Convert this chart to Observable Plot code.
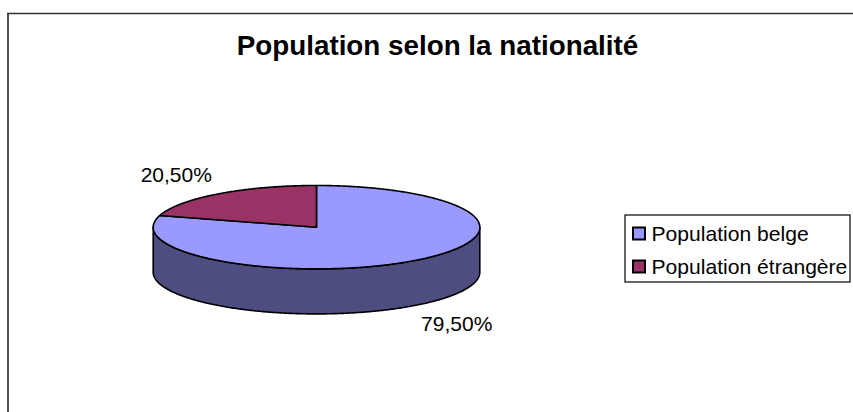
<!DOCTYPE html>
<html>
<head>
<meta charset="utf-8">
<script src="https://cdn.jsdelivr.net/npm/d3@7"></script>
<script src="https://cdn.jsdelivr.net/npm/@observablehq/plot@0.6"></script>
<style>
  html, body { margin: 0; padding: 0; background: #fff; overflow: hidden; }
  #chart { width: 853px; height: 412px; }
</style>
</head>
<body>
<div id="chart"></div>
<script>
// ---- data ----
const title = "Population selon la nationalité";
const categories = ["Population belge", "Population étrangère"];
const shares = [79.5, 20.5];
const shareLabels = ["79,50%", "20,50%"];

// ---- styles / layout ----
const topColors = ["#9999ff", "#993366"];
const sideColors = ["#4d4d80", "#4d1a33"];
const W = 853, H = 412;
const FONT = "'Liberation Sans', Arial, sans-serif";
const pie = {cx: 316, cy: 226.7, rx: 163.3, ry: 41.7, depth: 45};
const legendBox = {x: 625, y: 215, w: 225, h: 67};
const legendRow0 = 233.5, legendRowStep = 33, swatch = 12;

const pt = (a, dz = 0) => ({x: pie.cx + pie.rx * Math.sin(a), y: pie.cy - pie.ry * Math.cos(a) + dz});
const arc = (a0, a1, dz) => {
  const n = Math.max(2, Math.ceil(Math.abs(a1 - a0) / 0.01));
  return d3.range(n + 1).map(k => pt(a0 + (a1 - a0) * k / n, dz));
};

const total = d3.sum(shares);
let acc = 0;
const slices = categories.map((name, i) => {
  const a0 = acc / total * 2 * Math.PI;
  acc += shares[i];
  const a1 = acc / total * 2 * Math.PI;
  const c = {x: pie.cx, y: pie.cy};
  const top = [c, ...arc(a0, a1, 0), c];
  const lo = Math.max(a0, Math.PI / 2), hi = Math.min(a1, 3 * Math.PI / 2);
  let side = null;
  if (hi > lo) {
    const t = arc(lo, hi, 0), b = arc(hi, lo, pie.depth);
    side = [...t, ...b, t[0]];
  }
  const mid = (a0 + a1) / 2;
  const label = {
    x: pie.cx + 1.43 * pie.rx * Math.sin(mid),
    y: pie.cy - 1.55 * pie.ry * Math.cos(mid) + (Math.cos(mid) < 0 ? pie.depth : 0),
    text: shareLabels[i]
  };
  return {name, i, top, side, label};
});

const marks = [];
// outer chart-area border (left & top visible)
marks.push(Plot.ruleX([7.5], {y1: 13, y2: H, stroke: "#333", strokeWidth: 1.7}));
marks.push(Plot.ruleY([13], {x1: 7, x2: W, stroke: "#333", strokeWidth: 1.7}));
// side walls
for (const s of slices) if (s.side)
  marks.push(Plot.line(s.side, {x: "x", y: "y", fill: sideColors[s.i], stroke: "black", strokeWidth: 1.6, curve: "linear"}));
// top faces
for (const s of slices)
  marks.push(Plot.line(s.top, {x: "x", y: "y", fill: topColors[s.i], stroke: "black", strokeWidth: 1.6, curve: "linear"}));
// percentage labels
marks.push(Plot.text(slices.map(s => s.label), {x: "x", y: "y", text: "text", fontSize: 21, fill: "black", lineAnchor: "middle", textAnchor: "middle"}));
// title
marks.push(Plot.text([title], {x: () => 437, y: () => 54, text: d => d, fontSize: 27.8, fontWeight: "bold", fill: "black", lineAnchor: "bottom", textAnchor: "middle"}));
// legend
marks.push(Plot.rect([legendBox], {x1: d => d.x, x2: d => d.x + d.w, y1: d => d.y, y2: d => d.y + d.h, fill: "white", stroke: "black", strokeWidth: 1.2}));
const legendItems = categories.map((name, i) => ({name, i, y: legendRow0 + i * legendRowStep}));
marks.push(Plot.rect(legendItems, {
  x1: () => 633, x2: () => 633 + swatch,
  y1: d => d.y - swatch / 2, y2: d => d.y + swatch / 2,
  fill: d => topColors[d.i], stroke: "black", strokeWidth: 2
}));
marks.push(Plot.text(legendItems, {x: () => 651, y: "y", text: "name", fontSize: 21.1, fill: "black", textAnchor: "start", lineAnchor: "middle"}));

const chart = Plot.plot({
  width: W, height: H,
  marginTop: 0, marginRight: 0, marginBottom: 0, marginLeft: 0,
  x: {domain: [0, W], range: [0, W], axis: null},
  y: {domain: [0, H], range: [0, H], axis: null},
  style: {fontFamily: FONT, background: "white", color: "black"},
  marks
});
document.getElementById("chart").appendChild(chart);
</script>
</body>
</html>
